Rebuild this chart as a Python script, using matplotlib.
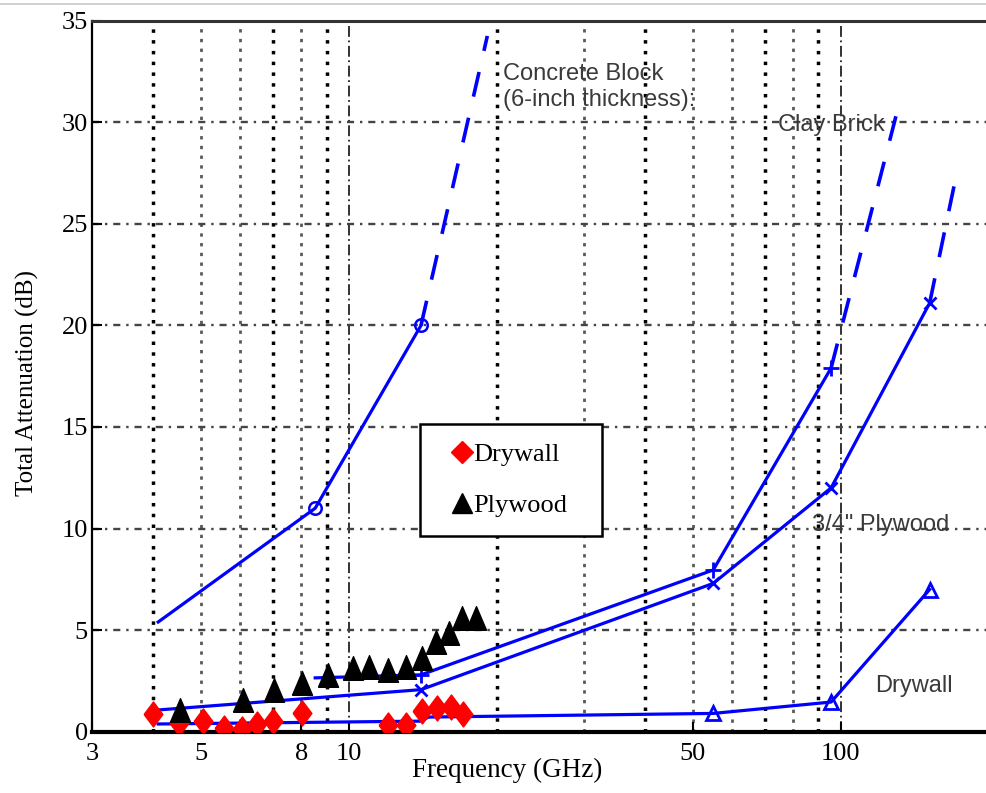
import matplotlib
matplotlib.use('Agg')
import matplotlib.pyplot as plt
from matplotlib.lines import Line2D
from matplotlib.ticker import NullLocator

drywall_f = [4.0, 4.51, 5.04, 5.56, 6.06, 6.51, 7.0, 8.02, 11.98, 13.05, 14.04, 15.06, 16.1, 17.05]
drywall_db = [0.86, 0.41, 0.53, 0.17, 0.13, 0.38, 0.53, 0.9, 0.33, 0.33, 1.02, 1.18, 1.23, 0.87]

plywood_f = [4.52, 6.09, 7.03, 8.03, 9.05, 10.17, 11.0, 11.98, 13.05, 14.04, 15.02, 15.98, 17.0, 18.1]
plywood_db = [1.07, 1.56, 2.05, 2.38, 2.79, 3.12, 3.2, 3.04, 3.2, 3.63, 4.43, 4.84, 5.58, 5.58]

# model curves (solid part + dashed extrapolation)
concrete_f = [4.09, 8.53, 14.0]
concrete_db = [5.4, 11.0, 20.0]
concrete_ext_f = [14.0, 19.1]
concrete_ext_db = [20.0, 34.25]

clay_f = [8.53, 14.0, 55.0, 95.5]
clay_db = [2.65, 2.8, 7.96, 17.9]
clay_ext_f = [95.5, 129.9]
clay_ext_db = [17.9, 30.46]

ply_f = [4.09, 14.0, 55.0, 95.5, 151.5]
ply_db = [1.07, 2.07, 7.3, 12.0, 21.1]
ply_ext_f = [151.5, 170.3]
ply_ext_db = [21.1, 27.0]

dry_f = [4.09, 14.0, 14.5, 55.0, 95.5, 151.5]
dry_db = [0.38, 0.52, 0.72, 0.9, 1.46, 7.0]

xtick_vals = [3, 5, 8, 10, 50, 100]
ytick_vals = [0, 5, 10, 15, 20, 25, 30, 35]

serif = 'Liberation Serif'
sans = 'Liberation Sans'
blue = '#0000ff'

fig = plt.figure(figsize=(9.86, 7.93), dpi=100)
ax = fig.add_axes([0.0933, 0.0773, 0.9097, 0.8966])
ax.set_xscale('log')
ax.set_xlim(3, 200)
ax.set_ylim(0, 35)

# matlab style grid: dotted verticals, dash-dot horizontals
dark_v = [4, 7, 9, 20, 40, 70, 90]
light_v = [5, 6, 8, 30, 50, 60, 80]
for v in dark_v:
    ax.axvline(v, color='black', lw=2.5, ls=(0, (1, 2.1)), zorder=1)
for v in light_v:
    ax.axvline(v, color='#5a5a5a', lw=2.0, ls=(0, (1.2, 2.3)), zorder=1)
for v in [10, 100]:
    ax.axvline(v, color='#222222', lw=1.3, ls=(0, (6, 2, 1, 2)), zorder=1)
for h in [5, 10, 15, 20, 25, 30]:
    ax.axhline(h, color='#444444', lw=1.7, ls=(0, (3, 2.5, 1, 2.5)), zorder=1)

# model lines
ax.plot(concrete_f, concrete_db, color=blue, lw=2.3, marker='o', ms=9, mfc='none',
        mew=1.8, markevery=[1, 2], zorder=3)
ax.plot(concrete_ext_f, concrete_ext_db, color=blue, lw=2.6, ls=(0, (7, 6)), zorder=3)
ax.plot(clay_f, clay_db, color=blue, lw=2.3, marker='+', ms=11, mew=2,
        markevery=[1, 2, 3], zorder=3)
ax.plot(clay_ext_f, clay_ext_db, color=blue, lw=2.6, ls=(0, (7, 6)), zorder=3)
ax.plot(ply_f, ply_db, color=blue, lw=2.3, marker='x', ms=9, mew=2,
        markevery=[1, 2, 3, 4], zorder=3)
ax.plot(ply_ext_f, ply_ext_db, color=blue, lw=2.6, ls=(0, (7, 6)), zorder=3)
ax.plot(dry_f, dry_db, color=blue, lw=2.3, marker='^', ms=10, mfc='none', mew=2,
        markevery=[3, 4, 5], zorder=3)

# measured points
diamond = [(-0.75, 0), (0, 1), (0.75, 0), (0, -1), (-0.75, 0)]
tri = [(-0.85, -1), (0, 1), (0.85, -1), (-0.85, -1)]
ax.plot(drywall_f, drywall_db, ls='none', marker=diamond, ms=18, color='#ff0000',
        mec='#ff0000', zorder=4)
ax.plot(plywood_f, plywood_db, ls='none', marker=tri, ms=17, color='black', zorder=5)

# ticks and labels
ax.xaxis.set_minor_locator(NullLocator())
ax.set_xticks(xtick_vals)
ax.set_xticklabels([str(v) for v in xtick_vals])
ax.set_yticks(ytick_vals)
ax.tick_params(direction='in', length=7, width=1.5, labelsize=19)
ax.tick_params(axis='x', pad=8)
ax.tick_params(axis='y', pad=3)
for lab in ax.get_xticklabels() + ax.get_yticklabels():
    lab.set_family(serif)

ax.set_xlabel('Frequency (GHz)', fontsize=19.5, family=serif)
ax.xaxis.set_label_coords(0.4627, -0.037)
ax.set_ylabel('Total Attenuation (dB)', fontsize=18, family=serif)
ax.yaxis.label.set_va('center')
ax.yaxis.set_label_coords(-0.0725, 0.49)

ax.spines['top'].set_linewidth(2.2)
ax.spines['top'].set_color('#333333')
ax.spines['left'].set_linewidth(1.6)
ax.spines['bottom'].set_linewidth(3)
ax.spines['right'].set_visible(False)

# curve names
txt = dict(family=sans, fontsize=17, color='#3a3a3a', ha='left', va='center', zorder=6)
ax.text(20.6, 31.74, 'Concrete Block\n(6-inch thickness):', linespacing=1.25, **txt)
ax.text(74.5, 29.87, 'Clay Brick', **txt)
ax.text(87.3, 10.17, '3/4" Plywood', **txt)
ax.text(117.2, 2.25, 'Drywall', **txt)

# legend
handles = [Line2D([], [], ls='none', marker='D', ms=11, color='#ff0000'),
           Line2D([], [], ls='none', marker='^', ms=14, color='black')]
leg = ax.legend(handles, ['Drywall', 'Plywood'], loc='upper left',
                bbox_to_anchor=(0.3657, 0.2865, 0.2029, 0.1463), mode='expand',
                borderaxespad=0, prop={'family': serif, 'size': 19},
                handlelength=1.8, handletextpad=-0.5, labelspacing=1.05,
                borderpad=0.7, fancybox=False, framealpha=1, edgecolor='black')
leg.get_frame().set_linewidth(1.8)
leg.set_zorder(7)

# thin grey rule along the top of the image
fig.add_artist(Line2D([0, 1], [1 - 4 / 793, 1 - 4 / 793], color='#c8c8c8', lw=1.2))

fig.savefig('out.png', dpi=100)
